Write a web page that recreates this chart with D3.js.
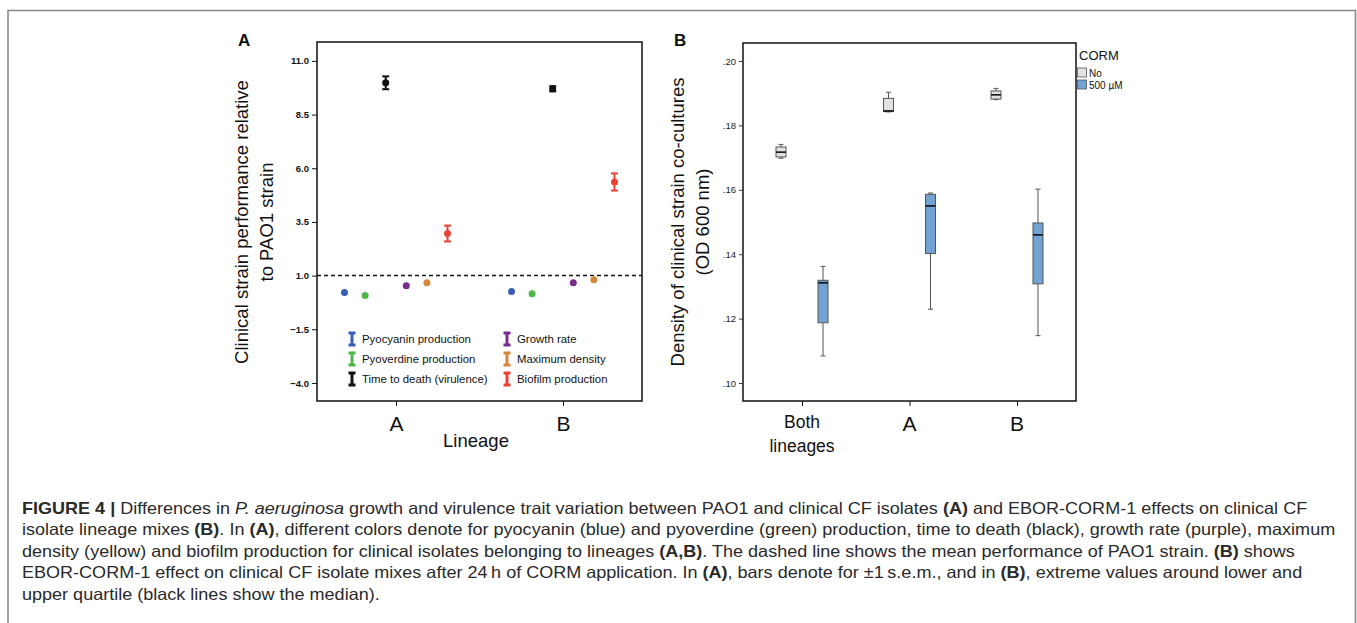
<!DOCTYPE html>
<html><head><meta charset="utf-8">
<script src="https://cdn.jsdelivr.net/npm/d3@7"></script>
<style>
html,body{margin:0;padding:0;background:#fff;}
svg{display:block;font-family:"Liberation Sans",Arial,sans-serif;}
</style></head>
<body><svg id="fig" width="1357" height="623"></svg>
<script>
// ---------- Panel A data ----------
const lineagesA = ["A", "B"];
const traits = ["Pyocyanin production","Pyoverdine production","Time to death (virulence)","Growth rate","Maximum density","Biofilm production"];
const traitColors = ["#3b5db7","#4cb748","#111111","#7a2b8c","#d6883a","#ea4335"];
const meanLineageA = [0.21, 0.07, 9.98, 0.53, 0.67, 2.96];
const semLineageA  = [0.05, 0.05, 0.30, 0.05, 0.05, 0.37];
const meanLineageB = [0.26, 0.16, 9.70, 0.67, 0.81, 5.36];
const semLineageB  = [0.05, 0.05, 0.12, 0.05, 0.05, 0.40];
const ticksA = [-4.0, -1.5, 1.0, 3.5, 6.0, 8.5, 11.0];
const pao1Mean = 1.0;

// ---------- Panel B data ----------
const categoriesB = ["Both lineages", "A", "B"];
const cormLevels = ["No", "500 µM"];
const noMin = [0.1698, 0.1842, 0.1880];
const noQ1  = [0.1702, 0.1843, 0.1882];
const noMed = [0.1717, 0.1845, 0.1895];
const noQ3  = [0.1733, 0.1884, 0.1907];
const noMax = [0.1741, 0.1903, 0.1915];
const cormMin = [0.1084, 0.1229, 0.1147];
const cormQ1  = [0.1187, 0.1402, 0.1308];
const cormMed = [0.1311, 0.1550, 0.1460];
const cormQ3  = [0.1319, 0.1586, 0.1497];
const cormMax = [0.1362, 0.1590, 0.1602];
const ticksB = [0.10, 0.12, 0.14, 0.16, 0.18, 0.20];
const boxColors = ["#e2e2e2", "#72a3d3"];

const svg = d3.select("#fig");

// outer frame
svg.append("path").attr("d","M8,623 L8,10.5 L1355.5,10.5 L1355.5,623")
  .attr("fill","none").attr("stroke","#8a8a8a").attr("stroke-width",1.6);

// ================= PANEL A =================
const A = {l:317, r:642, t:42, b:401};
const yA = d3.scaleLinear().domain([-4.84, 11.88]).range([A.b, A.t]);
const xA = d3.scalePoint().domain(lineagesA).range([A.l, A.r]).padding(0.473);
const offA = d3.scalePoint().domain(traits).range([-51.5, 51.5]);

const gA = svg.append("g");
gA.append("rect").attr("x",A.l).attr("y",A.t).attr("width",A.r-A.l).attr("height",A.b-A.t)
  .attr("fill","none").attr("stroke","#111").attr("stroke-width",1.5);

const yAxisA = gA.append("g").attr("transform",`translate(${A.l},0)`)
  .call(d3.axisLeft(yA).tickValues(ticksA).tickFormat(d3.format(".1f")).tickSize(5).tickSizeOuter(0));
yAxisA.select(".domain").remove();
yAxisA.selectAll("text").attr("font-size",9.5).attr("font-weight","bold").attr("fill","#111")
  .attr("font-family","Liberation Sans, Arial, sans-serif");
yAxisA.selectAll("line").attr("stroke","#111");

const xAxisA = gA.append("g").attr("transform",`translate(0,${A.b})`)
  .call(d3.axisBottom(xA).tickSize(5).tickSizeOuter(0));
xAxisA.select(".domain").remove();
xAxisA.selectAll("line").attr("stroke","#111");
xAxisA.selectAll("text").attr("font-size",21).attr("fill","#111").attr("dy","1.05em")
  .attr("font-family","Liberation Sans, Arial, sans-serif");

gA.append("text").attr("x",476).attr("y",447).attr("text-anchor","middle")
  .attr("font-size",18.5).attr("fill","#111").text("Lineage");

gA.append("text").attr("transform","translate(248,222) rotate(-90)").attr("text-anchor","middle")
  .attr("font-size",18.5).attr("fill","#111").text("Clinical strain performance relative");
gA.append("text").attr("transform","translate(273,222) rotate(-90)").attr("text-anchor","middle")
  .attr("font-size",18.5).attr("fill","#111").text("to PAO1 strain");

gA.append("text").attr("x",238).attr("y",46).attr("font-size",17).attr("font-weight","bold")
  .attr("fill","#111").text("A");

// dashed reference line
gA.append("line").attr("x1",A.l).attr("x2",A.r).attr("y1",yA(pao1Mean)).attr("y2",yA(pao1Mean))
  .attr("stroke","#111").attr("stroke-width",1.5).attr("stroke-dasharray","4,3");

const ptsA = [];
lineagesA.forEach((lin, li) => {
  const means = li === 0 ? meanLineageA : meanLineageB;
  const sems = li === 0 ? semLineageA : semLineageB;
  traits.forEach((t, ti) => ptsA.push({lin, t, color: traitColors[ti], m: means[ti], s: sems[ti]}));
});
const ptG = gA.selectAll("g.pt").data(ptsA).join("g").attr("class","pt")
  .attr("transform", d => `translate(${xA(d.lin) + offA(d.t)},0)`);
ptG.append("line").attr("x1",0).attr("x2",0).attr("y1",d=>yA(d.m-d.s)).attr("y2",d=>yA(d.m+d.s))
  .attr("stroke",d=>d.color).attr("stroke-width",2);
ptG.filter(d=>d.s>0.08).selectAll("line.cap").data(d=>[{d, v:d.m-d.s},{d, v:d.m+d.s}]).join("line")
  .attr("class","cap").attr("x1",-3.5).attr("x2",3.5).attr("y1",e=>yA(e.v)).attr("y2",e=>yA(e.v))
  .attr("stroke",e=>e.d.color).attr("stroke-width",2);
ptG.append("circle").attr("cx",0).attr("cy",d=>yA(d.m)).attr("r",3.5).attr("fill",d=>d.color);

// legend A
const legA = gA.append("g");
traits.forEach((t, i) => {
  const col = Math.floor(i / 3), row = i % 3;
  const x = col === 0 ? 352 : 507, y = 339 + row * 20;
  const g = legA.append("g").attr("transform",`translate(${x},${y})`);
  g.append("path").attr("d","M-3.5,-6 L3.5,-6 M0,-6 L0,6 M-3.5,6 L3.5,6")
    .attr("stroke",traitColors[i]).attr("stroke-width",3).attr("fill","none");
  g.append("text").attr("x",10).attr("y",4).attr("font-size",11.4).attr("fill","#111").text(t);
});

// ================= PANEL B =================
const B = {l:743, r:1076, t:43, b:401};
const yB = d3.scaleLinear().domain([0.0944, 0.2056]).range([B.b, B.t]);
const xB = d3.scalePoint().domain(categoriesB).range([B.l, B.r]).padding(0.549);
const offB = d3.scalePoint().domain(cormLevels).range([-21, 21]);
const boxW = 10;

const gB = svg.append("g");
gB.append("rect").attr("x",B.l).attr("y",B.t).attr("width",B.r-B.l).attr("height",B.b-B.t)
  .attr("fill","none").attr("stroke","#111").attr("stroke-width",1.5);

const yAxisB = gB.append("g").attr("transform",`translate(${B.l},0)`)
  .call(d3.axisLeft(yB).tickValues(ticksB).tickFormat(d => d3.format(".2f")(d).replace(/^0/,"")).tickSize(4).tickSizeOuter(0));
yAxisB.select(".domain").remove();
yAxisB.selectAll("text").attr("font-size",9.5).attr("fill","#222")
  .attr("font-family","Liberation Sans, Arial, sans-serif");
yAxisB.selectAll("line").attr("stroke","#333");

const xAxisB = gB.append("g").attr("transform",`translate(0,${B.b})`)
  .call(d3.axisBottom(xB).tickSize(5).tickSizeOuter(0).tickFormat(""));
xAxisB.select(".domain").remove();
xAxisB.selectAll("line").attr("stroke","#111");
categoriesB.forEach(c => {
  if (c === "Both lineages") {
    const t = gB.append("text").attr("text-anchor","middle").attr("font-size",17.5).attr("fill","#111");
    t.append("tspan").attr("x",xB(c)).attr("y",428).text("Both");
    t.append("tspan").attr("x",xB(c)).attr("y",452).text("lineages");
  } else {
    gB.append("text").attr("x",xB(c)).attr("y",431).attr("text-anchor","middle")
      .attr("font-size",21).attr("fill","#111").text(c);
  }
});

gB.append("text").attr("transform","translate(684,222) rotate(-90)").attr("text-anchor","middle")
  .attr("font-size",18.5).attr("fill","#111").text("Density of clinical strain co-cultures");
gB.append("text").attr("transform","translate(709,222) rotate(-90)").attr("text-anchor","middle")
  .attr("font-size",18.5).attr("fill","#111").text("(OD 600 nm)");

gB.append("text").attr("x",674).attr("y",46).attr("font-size",17).attr("font-weight","bold")
  .attr("fill","#111").text("B");

const boxes = [];
categoriesB.forEach((c, i) => {
  boxes.push({c, lvl: cormLevels[0], fill: boxColors[0], min: noMin[i], q1: noQ1[i], med: noMed[i], q3: noQ3[i], max: noMax[i]});
  boxes.push({c, lvl: cormLevels[1], fill: boxColors[1], min: cormMin[i], q1: cormQ1[i], med: cormMed[i], q3: cormQ3[i], max: cormMax[i]});
});
const bx = gB.selectAll("g.box").data(boxes).join("g").attr("class","box")
  .attr("transform", d => `translate(${xB(d.c) + offB(d.lvl)},0)`);
bx.append("line").attr("x1",0).attr("x2",0).attr("y1",d=>yB(d.max)).attr("y2",d=>yB(d.min))
  .attr("stroke","#555").attr("stroke-width",1);
bx.append("line").attr("x1",-2.5).attr("x2",2.5).attr("y1",d=>yB(d.max)).attr("y2",d=>yB(d.max))
  .attr("stroke","#555").attr("stroke-width",1);
bx.append("line").attr("x1",-2.5).attr("x2",2.5).attr("y1",d=>yB(d.min)).attr("y2",d=>yB(d.min))
  .attr("stroke","#555").attr("stroke-width",1);
bx.append("rect").attr("x",-boxW/2).attr("width",boxW).attr("y",d=>yB(d.q3))
  .attr("height",d=>Math.max(1,yB(d.q1)-yB(d.q3))).attr("fill",d=>d.fill)
  .attr("stroke","#555").attr("stroke-width",1);
bx.append("line").attr("x1",-boxW/2).attr("x2",boxW/2).attr("y1",d=>yB(d.med)).attr("y2",d=>yB(d.med))
  .attr("stroke","#111").attr("stroke-width",1.6);

// legend B
const legB = gB.append("g");
legB.append("text").attr("x",1079).attr("y",60).attr("font-size",13).attr("fill","#111").text("CORM");
cormLevels.forEach((l, i) => {
  const y = 68 + i * 12;
  legB.append("rect").attr("x",1077.5).attr("y",y).attr("width",9).attr("height",9)
    .attr("fill",boxColors[i]).attr("stroke","#555").attr("stroke-width",0.8);
  legB.append("text").attr("x",1089).attr("y",y+8.5).attr("font-size",10).attr("fill","#111").text(l);
});

// ================= Caption =================
const captionLines = [
  [["FIGURE 4 | ","b"],["Differences in ",""],["P. aeruginosa","i"],[" growth and virulence trait variation between PAO1 and clinical CF isolates ",""],["(A)","b"],[" and EBOR-CORM-1 effects on clinical CF",""]],
  [["isolate lineage mixes ",""],["(B)","b"],[". In ",""],["(A)","b"],[", different colors denote for pyocyanin (blue) and pyoverdine (green) production, time to death (black), growth rate (purple), maximum",""]],
  [["density (yellow) and biofilm production for clinical isolates belonging to lineages ",""],["(A,B)","b"],[". The dashed line shows the mean performance of PAO1 strain. ",""],["(B)","b"],[" shows",""]],
  [["EBOR-CORM-1 effect on clinical CF isolate mixes after 24\u2009h of CORM application. In ",""],["(A)","b"],[", bars denote for \u00b11\u2009s.e.m., and in ",""],["(B)","b"],[", extreme values around lower and",""]],
  [["upper quartile (black lines show the median).",""]]
];
const cap = svg.append("g").attr("font-family","'Liberation Sans',Arial,sans-serif")
  .attr("font-size",16.5).attr("fill","#2a2a2a");
captionLines.forEach((segs, i) => {
  const t = cap.append("text").attr("x",22).attr("y",514 + i*21.4);
  segs.forEach(([s, st]) => {
    const ts = t.append("tspan").text(s);
    if (st === "b") ts.attr("font-weight","bold");
    if (st === "i") ts.attr("font-style","italic");
  });
  const w = t.node().getComputedTextLength();
  t.attr("textLength", w * 1.0925).attr("lengthAdjust","spacingAndGlyphs");
});
</script></body></html>
